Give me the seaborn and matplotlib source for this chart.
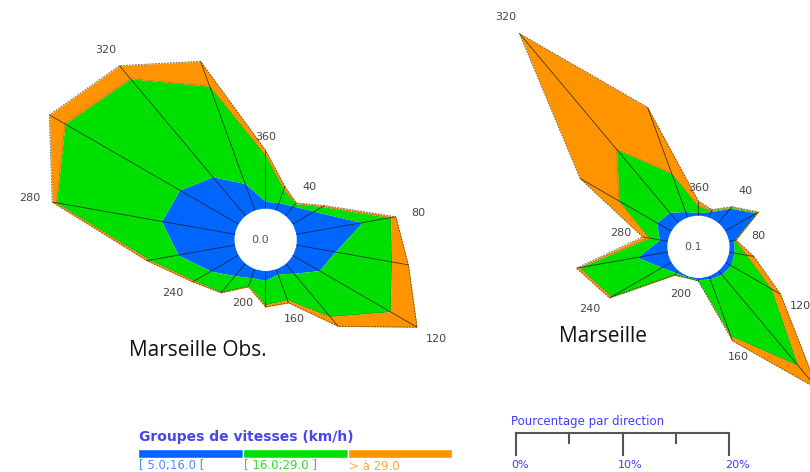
import numpy as np
import matplotlib
matplotlib.use("Agg")
import matplotlib.pyplot as plt
import seaborn as sns

# Wind directions (degrees, clockwise from north) and the ones that get a label
directions = list(range(20, 361, 20))
labelled_directions = list(range(40, 361, 40))

# Frequency (%) per direction and speed group - observed station
obs_5_16 = [0.8, 1.2, 2.4, 6.3, 3.7, 2.9, 1.2, 0.5, 0.9, 0.9, 1.5, 3.0, 5.4, 7.0, 6.4, 4.8, 2.7, 0.7]
obs_16_29 = [1.3, 0.3, 0.9, 2.7, 5.4, 7.7, 5.3, 2.6, 2.3, 0.8, 2.0, 1.8, 2.7, 10.0, 12.4, 12.0, 9.7, 4.3]
obs_29_plus = [0.3, 0.1, 0.2, 0.5, 1.6, 2.9, 1.2, 0.3, 0.2, 0.1, 0.1, 0.2, 0.3, 0.4, 1.7, 1.6, 2.5, 0.5]

# Frequency (%) per direction and speed group - model point
mod_5_16 = [0.6, 1.8, 3.4, 0.5, 0.5, 0.6, 0.5, 0.3, 0.2, 0.1, 0.3, 1.0, 2.9, 0.8, 1.6, 1.3, 0.6, 0.3]
mod_16_29 = [0.1, 0.1, 0.1, 0.1, 1.2, 4.4, 11.1, 5.7, 0.1, 0.1, 0.2, 5.5, 5.5, 1.0, 4.1, 7.7, 3.8, 0.6]
mod_29_plus = [0.1, 0.1, 0.1, 0.1, 0.7, 1.0, 2.9, 0.5, 0.0, 0.0, 0.1, 0.2, 0.3, 0.6, 4.2, 14.2, 6.6, 0.5]

calm_obs = "0.0"
calm_mod = "0.1"
station_names = ["Marseille Obs.", "Marseille"]

speed_groups = ["[ 5.0;16.0 [", "[ 16.0;29.0 ]", "> à 29.0"]
speed_colors = ["#0066ff", "#00e000", "#ff9400"]
label_colors = ["#4d8cff", "#2edc2e", "#ffa733"]
scale_ticks = [0, 5, 10, 15, 20]
scale_labels = {0: "0%", 10: "10%", 20: "20%"}

sns.set_theme(style="white")
plt.rcParams["font.family"] = ["DejaVu Sans"]

W, H, DPI = 810, 472, 100
fig = plt.figure(figsize=(W / DPI, H / DPI), dpi=DPI)
fig.patch.set_facecolor("white")

PX_PER_PCT = 213.3 / 20.0   # radial scale, same as the scale bar
HOLE = 31.0                 # radius of the calm circle (px)
RADIUS = 300.0              # half-size of each polar axes (px)


def to_pct(px):
    return px / PX_PER_PCT


def draw_rose(cx, cy, low, mid, high, calm):
    ax = fig.add_axes([(cx - RADIUS) / W, (H - cy - RADIUS) / H,
                       2 * RADIUS / W, 2 * RADIUS / H], projection="polar")
    ax.set_theta_zero_location("N")
    ax.set_theta_direction(-1)
    ax.set_rorigin(-to_pct(HOLE))
    ax.set_ylim(0, to_pct(RADIUS - HOLE))
    ax.axis("off")

    c1 = np.array(low)
    c2 = c1 + np.array(mid)
    c3 = c2 + np.array(high)
    theta = np.deg2rad(directions)
    tc = np.append(theta, theta[0])
    close = lambda a: np.append(a, a[0])

    ax.fill_between(tc, 0, close(c1), color=speed_colors[0], lw=0)
    ax.fill_between(tc, close(c1), close(c2), color=speed_colors[1], lw=0)
    ax.fill_between(tc, close(c2), close(c3), color=speed_colors[2], lw=0)

    # spokes from the calm circle to the tip of each direction
    ax.vlines(theta, 0, c3, colors="#1a1a1a", lw=0.55, alpha=0.85)

    # outlines of the middle and outer speed groups
    sns.lineplot(x=tc, y=close(c2), sort=False, estimator=None, ax=ax,
                 color="#333333", lw=0.5, alpha=0.6, linestyle=(0, (2, 1.5)))
    sns.lineplot(x=tc, y=close(c3), sort=False, estimator=None, ax=ax,
                 color="#3a2a10", lw=0.6, alpha=0.8, linestyle=(0, (2, 1.5)))

    # direction labels just beyond each tip
    for d in labelled_directions:
        i = directions.index(d)
        t = np.deg2rad(d)
        off = 8 + abs(np.sin(t)) * 14 + abs(np.cos(t)) * 5
        ax.text(t, c3[i] + to_pct(off), str(d), ha="center", va="center",
                fontsize=8, color="#444444")

    ax.text(0.5 - 5 / (2 * RADIUS), 0.5, calm, transform=ax.transAxes,
            ha="center", va="center", fontsize=8, color="#555555")
    return ax


draw_rose(265.5, 239.7, obs_5_16, obs_16_29, obs_29_plus, calm_obs)
draw_rose(698.3, 246.7, mod_5_16, mod_16_29, mod_29_plus, calm_mod)

# station names
fig.text(198 / W, 1 - 351 / H, station_names[0], fontfamily="Open Sans",
         fontsize=15, color="#111111", ha="center", va="center")
fig.text(603 / W, 1 - 336 / H, station_names[1], fontfamily="Open Sans",
         fontsize=15, color="#111111", ha="center", va="center")

# speed-group legend
fig.text(139 / W, 1 - 437 / H, "Groupes de vitesses (km/h)", color="#4646f0",
         fontsize=10, fontweight="bold", ha="left", va="center")
lax = fig.add_axes([138.3 / W, (H - 458.3) / H, (452.3 - 138.3) / W, 9 / H])
lax.barh([0, 0, 0], [1, 1, 1], left=[0, 1, 2], height=1.0, color=speed_colors)
lax.set_xlim(0, 3)
lax.set_ylim(-0.5, 0.5)
lax.axis("off")
for i, (lbl, col) in enumerate(zip(speed_groups, label_colors)):
    fig.text((139 + i * 105) / W, 1 - 466 / H, lbl, color=col, fontsize=8.5,
             ha="left", va="center")

# percentage scale bar
fig.text(511 / W, 1 - 422 / H, "Pourcentage par direction", color="#3c3cff",
         fontsize=8.5, ha="left", va="center")
sax = fig.add_axes([516 / W, (H - 456) / H, 213.3 / W, 22.7 / H])
sax.set_xlim(0, 20)
sax.set_ylim(0, 1)
sax.axis("off")
sax.plot([0, 20], [1, 1], color="#555555", lw=1.5, clip_on=False,
         solid_capstyle="projecting")
for t in scale_ticks:
    bottom = 0.04 if t in scale_labels else 0.59
    sax.plot([t, t], [1, bottom], color="#555555", lw=1.5, clip_on=False,
             solid_capstyle="projecting")
for t, lbl in scale_labels.items():
    fig.text((516 + t * PX_PER_PCT - 4.5) / W, 1 - 465 / H, lbl,
             color="#3c3cff", fontsize=8, ha="left", va="center")

fig.savefig("out.png", dpi=DPI, facecolor="white")
